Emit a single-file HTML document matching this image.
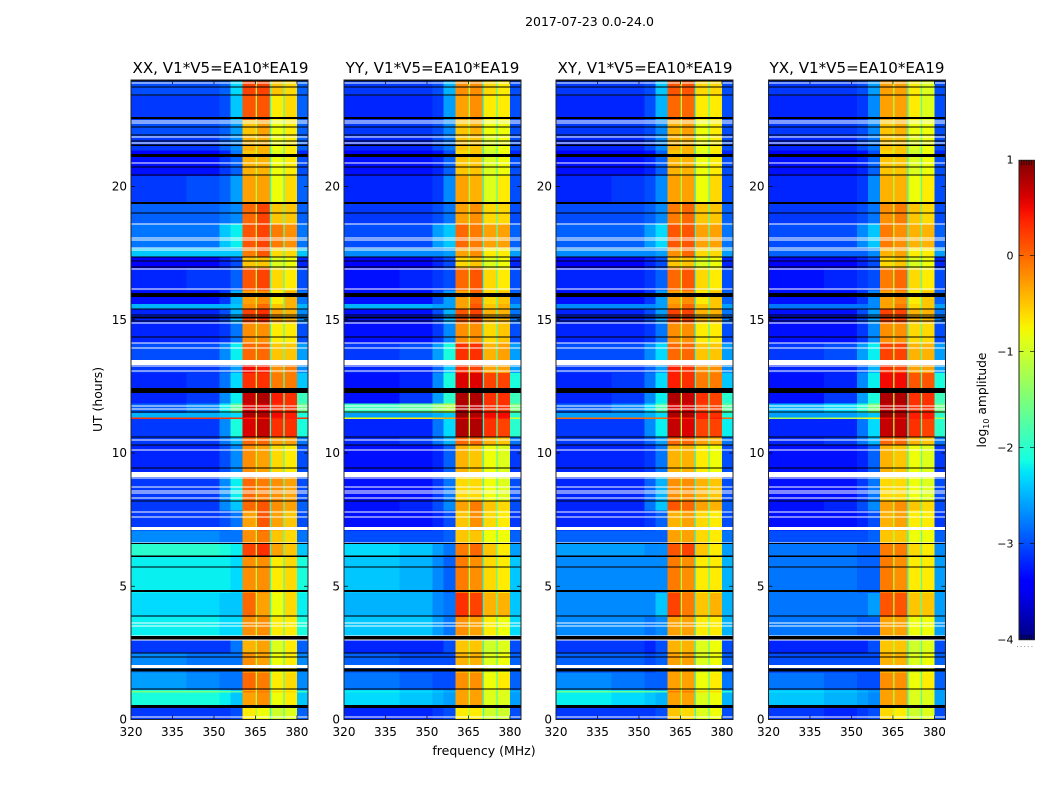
<!DOCTYPE html>
<html><head><meta charset="utf-8"><title>2017-07-23 spectrograms</title>
<style>
html,body{margin:0;padding:0;background:#fff;width:1050px;height:800px;overflow:hidden}
text{font-family:"DejaVu Sans","Liberation Sans",sans-serif;fill:#000}
</style></head><body>
<svg id="figure" xmlns="http://www.w3.org/2000/svg" width="1050" height="800" viewBox="0 0 1050 800">
<rect x="0" y="0" width="1050" height="800" fill="#fff"/>
<text x="589.5" y="26" font-size="12.5" text-anchor="middle">2017-07-23 0.0-24.0</text>
<g id="panels"></g>
<text x="220.5" y="73" font-size="15.1" text-anchor="middle">XX, V1*V5=EA10*EA19</text>
<text x="432.5" y="73" font-size="15.1" text-anchor="middle">YY, V1*V5=EA10*EA19</text>
<text x="645" y="73" font-size="15.1" text-anchor="middle">XY, V1*V5=EA10*EA19</text>
<text x="857" y="73" font-size="15.1" text-anchor="middle">YX, V1*V5=EA10*EA19</text>
<text x="484" y="755" font-size="12.5" text-anchor="middle">frequency (MHz)</text>
<text transform="translate(102,399.5) rotate(-90)" font-size="12.4" text-anchor="middle">UT (hours)</text>
<text transform="translate(986,400) rotate(-90)" font-size="12.3" text-anchor="middle">log<tspan font-size="8" dy="3">10</tspan><tspan dy="-3"> amplitude</tspan></text>
<defs><linearGradient id="jetGradient" x1="0" y1="1" x2="0" y2="0"></linearGradient></defs>
<g id="colorbar"></g>
<path d="M1017 646.5H1035" stroke="#999" stroke-width="1" stroke-dasharray="1 2.6" fill="none"/>
</svg>
<script>
// Channel band edges (MHz) and time-band starts (UT hours)
const freqEdges = [320,340,352,356,360.4,365.3,370.4,375.3,380.1,384];
const rowStartHours = [0,0.5,1.02,1.07,1.1,1.75,2.5,3.05,3.85,4.75,6.1,6.6,7.1,7.85,8.2,9.1,10.3,10.6,11.28,11.34,11.5,11.85,12.25,13,13.45,14.1,14.85,15.4,15.6,16.1,16.95,17.35,17.7,18.6,19.35,20.4,21.1,21.35,21.85,22.5,23.4,24];
// log10 amplitude, one row per time band, one column per channel band
const xxValues = [
[-3.1,-3.1,-3.1,-3.0,-0.7,-0.8,-1.0,-0.9,-2.9],
[-2.1,-2.1,-2.2,-2.4,-0.3,-0.2,-0.8,-0.7,-2.4],
[-1.5,-1.5,-1.6,-1.7,-0.1,-0.1,-0.6,-0.6,-1.9],
[-2.1,-2.1,-2.2,-2.4,-0.3,-0.2,-0.8,-0.7,-2.4],
[-2.6,-2.7,-2.8,-2.8,0.0,-0.1,-0.7,-0.6,-2.7],
[-2.7,-2.8,-2.8,-2.8,-0.2,-0.3,-0.8,-0.7,-2.7],
[-3.1,-3.1,-3.1,-2.8,-0.4,-0.3,-0.9,-0.7,-2.9],
[-2.2,-2.2,-2.3,-2.3,-0.2,-0.2,-0.7,-0.7,-2.1],
[-2.3,-2.3,-2.4,-2.4,0.0,-0.3,-0.8,-0.6,-2.2],
[-2.2,-2.2,-2.2,-2.3,-0.2,-0.2,-0.7,-0.6,-2.1],
[-2.0,-2.0,-2.1,-2.2,0.2,0.3,-0.3,-0.5,-2.4],
[-2.7,-2.7,-2.8,-2.8,-0.2,-0.1,-0.5,-0.6,-2.8],
[-3.1,-3.1,-3.0,-2.8,-0.3,0.1,-0.3,-0.5,-3.0],
[-3.1,-3.1,-2.7,-2.4,0.0,0.1,-0.2,-0.3,-2.9],
[-3.1,-3.1,-2.7,-2.2,0.0,-0.1,-0.2,-0.3,-3.0],
[-3.2,-3.2,-3.0,-2.7,-0.2,-0.3,-0.6,-0.7,-3.0],
[-3.1,-3.1,-2.8,-2.5,0.0,0.0,-0.3,-0.3,-2.8],
[-3.1,-3.1,-2.7,-2.1,0.6,0.7,0.3,0.3,-2.1],
[0.3,0.3,0.3,0.3,0.4,0.4,0.4,0.4,0.3],
[-2.5,-2.5,-2.4,-2.3,0.8,0.8,0.5,0.4,-2.1],
[-2.9,-2.7,-2.2,-1.7,0.6,0.6,0.3,0.3,-1.6],
[-3.2,-3.1,-2.7,-2.2,0.7,0.8,0.4,0.3,-1.9],
[-3.2,-3.1,-2.8,-2.3,0.3,0.3,-0.1,-0.1,-2.4],
[-3.1,-3.1,-2.9,-2.6,0.5,0.4,-0.2,-0.1,-2.7],
[-3.0,-3.0,-2.7,-2.2,0.0,0.0,-0.5,-0.5,-2.6],
[-3.2,-3.2,-3.1,-2.8,-0.2,-0.2,-0.7,-0.7,-3.0],
[-3.2,-3.2,-3.0,-2.5,0.2,0.3,-0.3,-0.4,-2.7],
[-2.5,-2.5,-2.5,-2.4,-0.2,0.0,-0.5,-0.4,-2.5],
[-3.3,-3.3,-3.1,-2.5,-0.3,-0.2,-0.7,-0.4,-2.8],
[-3.2,-3.1,-3.1,-2.9,0.1,0.2,-0.6,-0.7,-3.0],
[-3.4,-3.4,-3.2,-3.0,-0.5,-0.5,-0.9,-0.8,-3.2],
[-2.4,-2.4,-2.4,-2.4,-0.1,0.1,-0.6,-0.6,-2.4],
[-2.8,-2.8,-2.4,-2.2,0.1,0.2,-0.1,-0.2,-2.8],
[-2.9,-2.9,-2.8,-2.7,0.0,0.2,-0.5,-0.5,-2.9],
[-3.1,-3.0,-2.9,-2.6,-0.3,-0.3,-0.8,-0.6,-2.9],
[-3.3,-3.3,-3.1,-2.9,-0.4,-0.4,-0.8,-0.7,-3.0],
[-3.4,-3.4,-3.2,-2.8,-0.5,-0.4,-0.9,-0.7,-3.2],
[-3.1,-3.1,-2.9,-2.7,-0.4,-0.4,-0.8,-0.7,-2.9],
[-3.0,-3.0,-2.9,-2.6,-0.5,-0.3,-0.8,-0.7,-2.9],
[-3.1,-3.1,-3.0,-2.4,0.1,0.1,-0.7,-0.6,-2.9],
[-3.0,-3.0,-2.9,-2.3,0.2,0.2,-0.5,-0.6,-2.9]
];
const yyValues = [
[-3.2,-3.2,-3.1,-3.0,-0.7,-0.7,-1.0,-1.0,-3.0],
[-2.3,-2.4,-2.5,-2.6,-0.3,-0.3,-0.9,-0.9,-2.6],
[-2.2,-2.3,-2.4,-2.5,-0.3,-0.3,-0.9,-0.9,-2.5],
[-2.3,-2.4,-2.5,-2.6,-0.3,-0.3,-0.9,-0.9,-2.6],
[-2.8,-2.9,-3.0,-3.0,-0.2,-0.2,-0.8,-0.7,-2.9],
[-2.9,-3.0,-3.0,-3.0,-0.4,-0.4,-0.9,-0.8,-2.9],
[-3.2,-3.2,-3.2,-3.0,-0.5,-0.5,-1.0,-0.9,-3.0],
[-2.4,-2.4,-2.6,-2.8,-0.2,-0.3,-0.7,-0.8,-2.3],
[-2.5,-2.5,-2.7,-2.8,0.3,0.2,-0.4,-0.4,-2.4],
[-2.4,-2.5,-2.7,-2.9,-0.1,-0.2,-0.6,-0.7,-2.4],
[-2.3,-2.4,-2.6,-2.8,-0.1,0.0,-0.5,-0.7,-2.6],
[-3.0,-3.0,-3.0,-2.9,-0.5,-0.5,-0.8,-0.8,-2.9],
[-3.3,-3.3,-3.2,-3.0,-0.5,-0.2,-0.6,-0.7,-3.1],
[-3.3,-3.2,-3.0,-2.7,-0.3,-0.1,-0.5,-0.6,-3.0],
[-3.3,-3.3,-3.1,-2.8,-0.6,-0.6,-0.8,-0.9,-3.0],
[-3.3,-3.3,-3.2,-2.9,-0.4,-0.5,-0.8,-0.9,-3.1],
[-3.2,-3.1,-2.8,-2.5,0.0,0.0,-0.4,-0.5,-2.8],
[-3.2,-3.2,-2.8,-2.3,0.8,0.8,0.3,0.2,-2.0],
[-0.8,-0.7,-0.5,-0.3,0.5,0.5,0.4,0.4,-1.0],
[-2.6,-2.6,-2.5,-2.4,0.9,0.8,0.5,0.5,-2.0],
[-1.9,-1.7,-1.4,-1.2,0.8,0.7,0.3,0.3,-1.5],
[-3.3,-3.1,-2.6,-2.0,0.8,0.8,0.3,0.3,-1.9],
[-3.3,-3.2,-2.7,-2.1,0.6,0.6,0.2,0.2,-2.1],
[-3.2,-3.2,-2.9,-2.4,0.3,0.2,-0.3,-0.3,-2.6],
[-3.1,-3.0,-2.6,-2.1,0.3,0.3,-0.4,-0.3,-2.6],
[-3.3,-3.3,-3.1,-2.7,-0.2,-0.2,-0.6,-0.5,-3.0],
[-3.3,-3.3,-3.0,-2.5,0.1,0.2,-0.4,-0.4,-2.8],
[-2.5,-2.5,-2.6,-2.6,-0.3,0.1,-0.5,-0.4,-2.6],
[-3.3,-3.3,-3.0,-2.6,-0.3,0.0,-0.6,-0.5,-2.9],
[-3.3,-3.2,-3.1,-3.0,0.0,0.1,-0.6,-0.7,-3.0],
[-3.4,-3.4,-3.2,-3.0,-0.6,-0.5,-0.9,-0.8,-3.2],
[-2.7,-2.7,-2.7,-2.6,-0.3,-0.2,-0.7,-0.7,-2.6],
[-3.0,-3.0,-2.6,-2.4,0.0,-0.1,-0.3,-0.3,-2.9],
[-3.1,-3.1,-3.0,-2.8,-0.3,-0.2,-0.6,-0.6,-3.0],
[-3.2,-3.2,-3.1,-2.7,-0.3,-0.4,-0.9,-0.7,-3.0],
[-3.3,-3.3,-3.2,-2.9,-0.5,-0.5,-0.9,-0.8,-3.0],
[-3.4,-3.4,-3.3,-3.0,-0.6,-0.5,-1.0,-0.8,-3.2],
[-3.2,-3.2,-3.0,-2.8,-0.5,-0.5,-0.9,-0.8,-3.0],
[-3.1,-3.1,-3.0,-2.7,-0.5,-0.4,-0.8,-0.8,-3.0],
[-3.2,-3.2,-3.1,-2.6,-0.3,-0.2,-0.7,-0.7,-3.0],
[-3.1,-3.1,-3.0,-2.5,-0.2,-0.2,-0.6,-0.7,-3.0]
];
const xyValues = [
[-3.1,-3.1,-3.1,-3.0,-0.5,-0.6,-0.9,-0.8,-3.0],
[-2.2,-2.3,-2.4,-2.5,-0.3,-0.3,-0.9,-0.8,-2.5],
[-1.6,-1.6,-1.7,-1.8,-0.1,-0.1,-0.6,-0.6,-2.0],
[-2.2,-2.3,-2.4,-2.5,-0.3,-0.3,-0.9,-0.8,-2.5],
[-2.7,-2.8,-2.9,-2.9,-0.3,-0.3,-0.8,-0.7,-2.8],
[-2.9,-2.9,-3.0,-2.9,-0.3,-0.3,-0.9,-0.8,-2.9],
[-3.1,-3.1,-3.2,-3.0,-0.4,-0.4,-0.9,-0.8,-3.0],
[-2.7,-2.7,-2.8,-2.7,-0.3,-0.3,-0.7,-0.7,-2.5],
[-2.7,-2.7,-2.7,-2.4,0.2,-0.1,-0.5,-0.4,-2.5],
[-2.7,-2.7,-2.7,-2.7,-0.1,-0.2,-0.7,-0.7,-2.5],
[-2.6,-2.6,-2.7,-2.7,0.1,0.2,-0.5,-0.7,-2.6],
[-2.9,-2.9,-2.9,-2.9,-0.3,-0.3,-0.6,-0.7,-2.8],
[-3.2,-3.2,-3.1,-2.9,-0.4,-0.3,-0.6,-0.7,-3.0],
[-3.2,-3.2,-2.8,-2.4,0.1,0.0,-0.3,-0.4,-2.9],
[-3.2,-3.2,-2.9,-2.5,-0.2,-0.2,-0.4,-0.5,-3.0],
[-3.2,-3.2,-3.1,-2.8,-0.4,-0.4,-0.7,-0.8,-3.0],
[-3.1,-3.1,-2.9,-2.6,0.0,0.0,-0.3,-0.4,-2.8],
[-3.1,-3.1,-2.7,-2.2,0.7,0.6,0.2,0.2,-2.2],
[0.0,0.0,0.0,0.0,0.4,0.4,0.4,0.4,0.0],
[-2.6,-2.6,-2.5,-2.3,0.8,0.8,0.4,0.3,-2.1],
[-2.9,-2.7,-2.3,-1.8,0.6,0.6,0.2,0.2,-1.7],
[-3.2,-3.1,-2.7,-2.2,0.8,0.7,0.3,0.2,-2.0],
[-3.2,-3.1,-2.8,-2.3,0.4,0.3,-0.1,-0.1,-2.4],
[-3.1,-3.1,-2.9,-2.6,0.4,0.3,-0.2,-0.2,-2.7],
[-3.0,-3.0,-2.7,-2.3,0.0,0.0,-0.5,-0.5,-2.6],
[-3.2,-3.2,-3.1,-2.8,-0.2,-0.2,-0.7,-0.7,-3.0],
[-3.2,-3.2,-3.0,-2.6,0.2,0.2,-0.4,-0.4,-2.8],
[-2.7,-2.7,-2.7,-2.6,-0.2,0.0,-0.5,-0.5,-2.6],
[-3.3,-3.3,-3.1,-2.6,-0.3,-0.2,-0.7,-0.5,-2.9],
[-3.2,-3.2,-3.1,-2.9,0.0,0.1,-0.6,-0.7,-3.0],
[-3.4,-3.4,-3.2,-3.0,-0.5,-0.5,-0.9,-0.8,-3.2],
[-2.7,-2.7,-2.7,-2.6,-0.2,0.0,-0.6,-0.6,-2.6],
[-2.9,-2.9,-2.6,-2.3,0.1,0.1,-0.3,-0.3,-2.8],
[-3.0,-3.0,-2.9,-2.7,-0.1,0.0,-0.5,-0.5,-2.9],
[-3.2,-3.1,-3.0,-2.7,-0.3,-0.3,-0.8,-0.6,-3.0],
[-3.3,-3.3,-3.2,-2.9,-0.4,-0.4,-0.8,-0.7,-3.0],
[-3.4,-3.4,-3.3,-2.9,-0.5,-0.4,-0.9,-0.7,-3.2],
[-3.2,-3.2,-3.0,-2.7,-0.4,-0.4,-0.8,-0.7,-3.0],
[-3.1,-3.1,-3.0,-2.7,-0.4,-0.3,-0.8,-0.7,-3.0],
[-3.2,-3.2,-3.0,-2.5,0.0,0.0,-0.7,-0.7,-3.0],
[-3.1,-3.1,-3.0,-2.4,0.1,0.1,-0.6,-0.6,-3.0]
];
const yxValues = [
[-3.1,-3.2,-3.1,-3.0,-0.6,-0.7,-1.0,-0.9,-3.0],
[-2.4,-2.5,-2.6,-2.7,-0.3,-0.3,-0.9,-0.9,-2.6],
[-2.3,-2.4,-2.5,-2.6,-0.3,-0.3,-0.9,-0.9,-2.6],
[-2.4,-2.5,-2.6,-2.7,-0.3,-0.3,-0.9,-0.9,-2.6],
[-2.8,-2.9,-3.0,-3.0,-0.2,-0.2,-0.8,-0.7,-2.9],
[-3.0,-3.0,-3.0,-3.0,-0.4,-0.4,-0.9,-0.8,-2.9],
[-3.2,-3.2,-3.2,-3.0,-0.5,-0.5,-1.0,-0.9,-3.0],
[-2.8,-2.8,-2.9,-2.9,-0.3,-0.3,-0.8,-0.8,-2.6],
[-2.8,-2.8,-2.8,-2.6,0.1,0.1,-0.5,-0.5,-2.6],
[-2.8,-2.8,-2.9,-2.9,-0.1,-0.2,-0.7,-0.7,-2.6],
[-2.8,-2.8,-2.9,-2.9,-0.1,-0.1,-0.6,-0.7,-2.7],
[-3.0,-3.0,-3.0,-2.9,-0.5,-0.5,-0.8,-0.8,-2.9],
[-3.3,-3.3,-3.2,-3.0,-0.4,-0.3,-0.7,-0.7,-3.1],
[-3.3,-3.2,-3.0,-2.7,-0.3,-0.2,-0.5,-0.6,-3.0],
[-3.3,-3.3,-3.1,-2.8,-0.6,-0.6,-0.8,-0.9,-3.0],
[-3.3,-3.3,-3.2,-2.9,-0.4,-0.5,-0.8,-0.9,-3.1],
[-3.2,-3.1,-2.8,-2.5,0.0,0.0,-0.4,-0.5,-2.8],
[-3.2,-3.2,-2.8,-2.3,0.7,0.7,0.3,0.2,-2.0],
[-1.2,-1.1,-0.9,-0.7,0.5,0.5,0.4,0.4,-1.2],
[-2.6,-2.6,-2.5,-2.4,0.9,0.8,0.4,0.4,-2.0],
[-2.5,-2.3,-2.0,-1.5,0.7,0.7,0.3,0.3,-1.6],
[-3.3,-3.1,-2.6,-2.1,0.8,0.8,0.3,0.3,-1.9],
[-3.3,-3.2,-2.7,-2.2,0.5,0.5,0.1,0.1,-2.1],
[-3.2,-3.2,-2.9,-2.5,0.3,0.2,-0.3,-0.3,-2.6],
[-3.1,-3.0,-2.6,-2.2,0.2,0.2,-0.4,-0.4,-2.6],
[-3.3,-3.3,-3.1,-2.7,-0.2,-0.2,-0.6,-0.6,-3.0],
[-3.3,-3.3,-3.0,-2.6,0.2,0.2,-0.4,-0.4,-2.8],
[-2.8,-2.8,-2.8,-2.7,-0.3,-0.1,-0.6,-0.5,-2.6],
[-3.3,-3.3,-3.1,-2.7,-0.3,-0.2,-0.7,-0.5,-2.9],
[-3.3,-3.2,-3.1,-3.0,-0.1,0.0,-0.6,-0.7,-3.0],
[-3.4,-3.4,-3.2,-3.0,-0.6,-0.5,-0.9,-0.8,-3.2],
[-2.9,-2.9,-2.9,-2.7,-0.4,-0.3,-0.7,-0.7,-2.6],
[-3.0,-3.0,-2.7,-2.4,-0.1,-0.2,-0.4,-0.4,-2.9],
[-3.1,-3.1,-3.0,-2.8,-0.2,-0.1,-0.5,-0.6,-3.0],
[-3.2,-3.2,-3.1,-2.7,-0.4,-0.4,-0.8,-0.7,-3.0],
[-3.3,-3.3,-3.2,-2.9,-0.5,-0.5,-0.9,-0.8,-3.0],
[-3.4,-3.4,-3.3,-3.0,-0.6,-0.5,-1.0,-0.8,-3.2],
[-3.2,-3.2,-3.0,-2.8,-0.5,-0.5,-0.9,-0.8,-3.0],
[-3.1,-3.1,-3.0,-2.7,-0.5,-0.4,-0.8,-0.8,-3.0],
[-3.2,-3.2,-3.1,-2.7,-0.3,-0.3,-0.7,-0.9,-3.0],
[-3.1,-3.1,-3.0,-2.6,-0.3,-0.3,-0.7,-0.9,-3.0]
];
// Narrow channels that dip between sub-bands
const dipFreqs = [365.3,370.4,375.3];
const dipLevels = [-1.2,-2.0,-1.7];
// Flagged times: white = no data, black = zero amplitude (UT hours, widths in hours)
const whiteHours = [23.88,22.46,22.38,21.86,21.63,20.88,18.59,18.07,18.0,17.69,17.62,16.9,16.15,14.88,14.13,13.94,13.4,13.26,13.08,11.76,11.65,10.49,10.11,9.19,9.06,8.72,8.57,8.5,8.31,7.79,7.6,7.17,6.62,3.62,3.51,3.14,2.98,1.99,0.09];
const whiteWidths = [0.04,0.04,0.04,0.04,0.04,0.04,0.04,0.04,0.04,0.04,0.04,0.04,0.04,0.04,0.04,0.04,0.19,0.04,0.04,0.04,0.04,0.04,0.04,0.19,0.04,0.04,0.04,0.04,0.04,0.04,0.04,0.11,0.04,0.04,0.04,0.04,0.04,0.11,0.04];
const blackHours = [23.96,23.73,23.43,22.57,22.23,21.93,21.7,21.55,21.16,20.73,20.43,19.38,19.0,17.35,17.2,16.98,15.93,15.4,15.18,15.1,15.06,14.95,14.35,12.35,11.54,10.6,10.3,9.44,8.2,6.6,6.13,5.72,4.82,3.88,3.06,2.5,2.35,1.86,1.14,0.49];
const blackWidths = [0.05,0.04,0.04,0.06,0.04,0.04,0.04,0.05,0.11,0.04,0.04,0.06,0.04,0.04,0.04,0.05,0.15,0.04,0.04,0.04,0.04,0.04,0.04,0.19,0.04,0.04,0.04,0.05,0.04,0.04,0.06,0.04,0.06,0.04,0.13,0.04,0.04,0.12,0.04,0.12];
// Axis ticks
const freqTicks = [320,335,350,365,380];
const hourTicks = [0,5,10,15,20];
const colorTicks = [-4,-3,-2,-1,0,1];

const NS = 'http://www.w3.org/2000/svg';
const panelsGroup = document.getElementById('panels');
const barGroup = document.getElementById('colorbar');
const plotTop = 80, plotBottom = 719.5, plotWidth = 177, hourPx = 26.65;
function xScale(left, f){ return left + (f - 320) * plotWidth / 64; }
function yScale(h){ return 719.5 - h * hourPx; }
function cScale(v){ return 639.7 - (v + 4) * 96; }
function seg(t, pts){
  for(let i = 0; i < pts.length - 1; i++){
    const a = pts[i], b = pts[i+1];
    if(t <= b[0]) return a[1] + (b[1] - a[1]) * (t - a[0]) / (b[0] - a[0]);
  }
  return pts[pts.length-1][1];
}
function jet(v){
  const t = Math.max(0, Math.min(1, (v + 4) / 5));
  const r = seg(t, [[0,0],[0.35,0],[0.66,1],[0.89,1],[1,0.5]]);
  const g = seg(t, [[0,0],[0.125,0],[0.375,1],[0.64,1],[0.91,0],[1,0]]);
  const b = seg(t, [[0,0.5],[0.11,1],[0.34,1],[0.65,0],[1,0]]);
  return 'rgb(' + Math.round(r*255) + ',' + Math.round(g*255) + ',' + Math.round(b*255) + ')';
}
function make(tag, attrs, parent){
  const el = document.createElementNS(NS, tag);
  for(const k in attrs) el.setAttribute(k, attrs[k]);
  parent.appendChild(el);
  return el;
}
function drawPanel(label, left, values){
  const g = make('g', {}, panelsGroup);
  
  
  const right = left + plotWidth;
  values.forEach(function(row, r){
    row.forEach(function(v, c){
      const x0 = xScale(left, freqEdges[c]), x1 = xScale(left, freqEdges[c+1]);
      const y0 = yScale(rowStartHours[r+1]), y1 = yScale(rowStartHours[r]);
      const cell = make('rect', {x:x0, y:y0, width:x1-x0, height:y1-y0, fill:jet(v), 'shape-rendering':'crispEdges'}, g);
      
      
    });
  });
  dipFreqs.forEach(function(f, i){
    const dip = make('rect', {x:xScale(left,f)-0.6, y:plotTop, width:1.3, height:plotBottom-plotTop, fill:jet(dipLevels[i])}, g);
    
    
  });
  whiteHours.forEach(function(h, i){
    const w = whiteWidths[i];
    const line = make('rect', {x:left, y:yScale(h+w/2), width:plotWidth, height:w*hourPx, fill:'#fff', 'shape-rendering':'crispEdges'}, g);
    
    
  });
  blackHours.forEach(function(h, i){
    const w = blackWidths[i];
    const line = make('rect', {x:left, y:yScale(h+w/2), width:plotWidth, height:w*hourPx, fill:'#000', 'shape-rendering':'crispEdges'}, g);
    
    
  });
  freqTicks.forEach(function(f){
    const x = xScale(left, f);
    const t = make('path', {d:'M'+x+' '+plotBottom+'v-4M'+x+' '+plotTop+'v4', stroke:'#000', 'stroke-width':0.7, fill:'none'}, g);
    
    
    const lab = make('text', {x:x, y:736, 'font-size':12, 'text-anchor':'middle'}, g);
    
    
    lab.textContent = String(f);
  });
  hourTicks.forEach(function(h){
    const y = yScale(h);
    const t = make('path', {d:'M'+left+' '+y+'h4M'+right+' '+y+'h-4', stroke:'#000', 'stroke-width':0.7, fill:'none'}, g);
    
    
    const lab = make('text', {x:left-4, y:y+4, 'font-size':12, 'text-anchor':'end'}, g);
    
    
    lab.textContent = String(h);
  });
  const frame = make('rect', {x:left, y:plotTop, width:plotWidth, height:plotBottom-plotTop, fill:'none', stroke:'#222', 'stroke-width':1}, g);
  
  
}
drawPanel('xx', 131, xxValues);
drawPanel('yy', 344, yyValues);
drawPanel('xy', 556, xyValues);
drawPanel('yx', 768.5, yxValues);

// Colorbar
const grad = document.getElementById('jetGradient');
for(let i = 0; i <= 40; i++){
  make('stop', {offset:(i/40), 'stop-color':jet(-4 + 5*i/40)}, grad);
}
const barRect = make('rect', {x:1019, y:160.3, width:15.5, height:479.4, fill:'url(#jetGradient)', stroke:'#222', 'stroke-width':1}, barGroup);


colorTicks.forEach(function(v){
  const y = cScale(v);
  if(v > -4 && v < 1){
    const t = make('path', {d:'M1019 '+y+'h4.5M1034.5 '+y+'h-4.5', stroke:'#000', 'stroke-width':0.7, fill:'none'}, barGroup);
    
    
  }
  const lab = make('text', {x:1013.5, y:y+4, 'font-size':11, 'text-anchor':'end'}, barGroup);
  
  
  lab.textContent = String(v).replace('-', '\u2212');
});
[1021.5,1024,1026.5,1029,1031.5].forEach(function(x){
  const m = make('path', {d:'M'+x+' 160.3v5M'+x+' 639.7v-5', stroke:'#000', 'stroke-width':0.6, fill:'none'}, barGroup);
  
  
});
</script>
</body></html>
